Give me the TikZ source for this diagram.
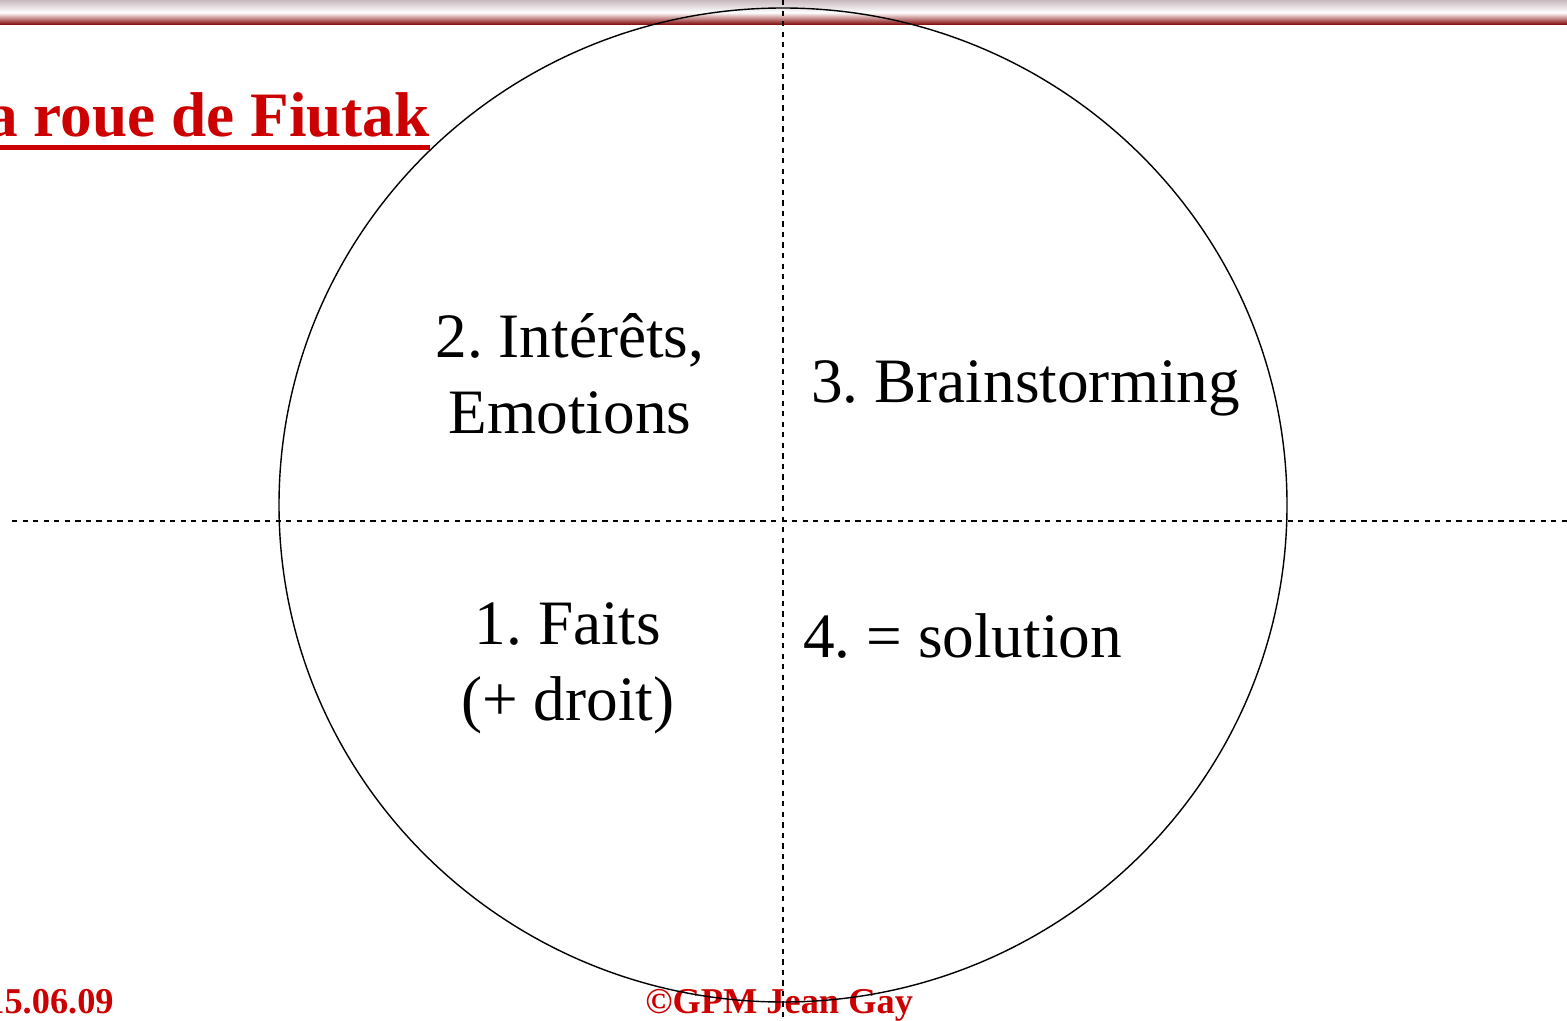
\documentclass[tikz,border=0pt]{standalone}
\usepackage{fontspec}
\setmainfont{Liberation Serif}
\usepackage{tikz}
\usetikzlibrary{calc}
\frenchspacing
\definecolor{titred}{RGB}{204,0,0}
\definecolor{bardark}{RGB}{128,0,0}
\definecolor{barlight}{RGB}{200,185,190}
\tikzset{
  quart/.style={align=center,font=\fontsize{36}{43}\selectfont,inner sep=0pt},
  pied/.style={text=titred,font=\fontsize{20.7}{24}\selectfont\bfseries,inner sep=0pt},
  axe/.style={line width=0.8pt,dash pattern=on 3pt off 3pt}
}
\begin{document}
\begin{tikzpicture}[x=0.02cm,y=-0.02cm]
\useasboundingbox (0,0) rectangle (1567,1020);
% bandeau du haut
\shade[top color=barlight,bottom color=bardark,middle color=white] (0,0) rectangle (1567,25);
% titre
\node[anchor=base east,inner sep=0pt,text=titred,font=\fontsize{36}{43}\selectfont\bfseries] (titre) at (430,137) {la roue de Fiutak};
\fill[titred] (0,145) rectangle (430,150);
% pied de page
\node[pied,anchor=base east] (date) at (114,1013) {15.06.09};
\node[pied,anchor=base west] (copyr) at (645,1013) {©GPM Jean Gay};
% la roue
\draw[line width=0.8pt] (783,505) ellipse [x radius=504,y radius=497];
\draw[axe] (783,0) -- (783,1020);
\draw[axe] (12,521) -- (1567,521);
% les quatre quartiers
\node[quart,anchor=base] (q2) at (570,433) {2. Intérêts,\\Emotions};
\node[quart,anchor=base west] (q3) at (811,402) {3. Brainstorming};
\node[quart,anchor=base] (q1) at (568,720) {1. Faits\\(+ droit)};
\node[quart,anchor=base west] (q4) at (803,657) {4. = solution};
\end{tikzpicture}
\end{document}
